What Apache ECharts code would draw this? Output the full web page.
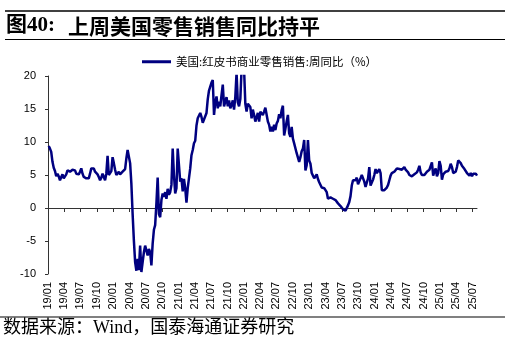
<!DOCTYPE html>
<html><head><meta charset="utf-8">
<script src="https://cdn.jsdelivr.net/npm/echarts@6/dist/echarts.min.js"></script>
<style>html,body{margin:0;padding:0;background:#fff}#c{width:512px;height:343px}</style>
</head><body><div id="c"></div>
<script>
// Weekly observations (week ending Saturday), first week ends 2019-01-05
const firstWeekUTC = [2019, 0, 5];
const y2019 = [9.4,9.0,8.5,7.0,6.1,5.6,4.8,5.2,4.8,4.2,4.7,5.1,4.5,4.8,5.1,5.7,5.8,5.5,5.6,5.8,5.5,5.7,5.2,5.5,5.1,5.5,6.0,5.2,4.7,4.8,4.5,4.7,4.5,5.2,6.0,6.3,6.0,5.5,5.7,5.1,4.7,4.2,4.6,5.2,4.7,4.2,5.2,7.9,5.0,5.0,5.6,7.7];
const y2020 = [6.8,5.8,5.0,5.2,5.5,5.1,4.8,5.5,5.6,5.9,7.5,8.8,8.9,6.8,3.7,-0.9,-4.9,-8.2,-9.5,-7.7,-9.4,-5.7,-9.7,-8.2,-6.7,-5.7,-5.9,-7.2,-6.2,-6.7,-8.7,-5.4,-3.3,-2.6,0.7,4.6,-0.9,-1.4,1.2,2.2,1.7,2.4,1.4,2.9,2.0,2.4,3.5,9.0,5.0,2.2,3.0,9.0];
const y2021 = [6.5,4.0,4.5,2.5,4.4,3.0,0.8,3.0,3.3,6.0,8.0,8.8,9.8,10.2,12.5,13.6,13.8,14.4,13.8,12.9,13.4,13.4,14.4,16.5,17.8,18.4,19.0,19.4,14.1,16.0,16.9,15.1,16.1,15.4,17.1,18.7,15.4,16.1,16.8,15.4,16.3,15.1,15.6,16.3,14.9,16.8,20.5,16.0,15.4,16.5,21.0,20.3];
const y2022 = [21.0,15.8,14.6,15.8,16.0,15.3,13.6,14.9,14.1,13.1,13.4,14.4,13.1,14.6,14.9,14.1,14.6,15.2,15.0,13.1,12.6,11.6,12.3,11.6,12.6,11.8,12.8,13.2,14.2,13.6,14.8,15.5,11.0,12.0,13.1,14.1,11.3,10.8,12.3,10.5,9.8,10.1,8.3,8.6,7.0,7.7,8.6,9.0,10.3,5.7,6.5,10.3,7.2];
const y2023 = [6.7,5.3,4.9,4.5,4.7,5.1,4.4,3.9,3.6,3.1,2.9,3.0,3.3,2.4,1.4,1.7,1.6,1.7,1.4,1.6,1.2,1.0,0.7,0.9,0.3,0.1,-0.2,-0.4,-0.4,-0.1,0.4,0.9,1.8,3.4,4.2,4.5,4.2,4.6,3.6,3.9,4.5,5.0,5.0,4.0,3.2,3.4,4.5,6.2,3.4,3.7,4.3,5.0];
const y2024 = [5.9,5.3,5.5,5.9,5.3,2.7,2.6,2.7,2.9,3.1,3.5,4.2,4.9,5.3,5.4,5.5,5.8,6.0,6.3,5.9,6.0,5.8,6.0,6.2,5.8,6.0,5.4,5.0,4.9,4.8,5.0,5.1,5.1,5.4,5.8,6.4,5.4,5.0,4.8,5.0,5.2,5.5,5.6,5.8,6.1,6.9,4.9,5.5,6.0,4.8,5.3,7.1];
const y2025 = [6.4,4.3,5.1,5.3,5.5,5.7,5.6,6.0,6.7,6.2,5.3,5.1,5.5,6.2,7.2,7.4,6.8,6.4,6.1,5.9,5.6,5.3,5.0,4.9,5.3,4.8,5.2,5.3,5.2,4.9];
const tickLabels = ['19/01','19/04','19/07','19/10','20/01','20/04','20/07','20/10','21/01','21/04','21/07','21/10','22/01','22/04','22/07','22/10','23/01','23/04','23/07','23/10','24/01','24/04','24/07','24/10','25/01','25/04','25/07'];
const yTicks = [-10, -5, 0, 5, 10, 15, 20];
const seriesName = '美国:红皮书商业零售销售:周同比（%）';

const DAY = 86400000;
const values = [].concat(y2019, y2020, y2021, y2022, y2023, y2024, y2025);
const t0 = Date.UTC(firstWeekUTC[0], firstWeekUTC[1], firstWeekUTC[2]);
const data = values.map((v, i) => [t0 + i * 7 * DAY, v]);
const tickValues = tickLabels.map(s => Date.UTC(2000 + Number(s.slice(0, 2)), Number(s.slice(3)) - 1, 1));
const xMin = tickValues[0];
const xMax = data[data.length - 1][0];
const labelFor = v => { const k = tickValues.indexOf(v); return k >= 0 ? tickLabels[k] : ''; };

const chart = echarts.init(document.getElementById('c'), null, {renderer: 'canvas'});
chart.setOption({
  animation: false,
  backgroundColor: '#fff',
  grid: {left: 48, right: 35, top: 76, bottom: 69, containLabel: false, outerBoundsMode: 'none'},
  legend: {
    data: [seriesName], left: 137, top: 51,
    icon: 'rect', itemWidth: 29, itemHeight: 3, itemGap: 4,
    textStyle: {fontSize: 11.5, color: '#000', fontFamily: '"Noto Sans CJK SC", sans-serif'}
  },
  xAxis: [{
    type: 'value', min: xMin, max: xMax, scale: true,
    axisLine: {onZero: true, lineStyle: {color: '#333', width: 1}},
    axisTick: {show: true, customValues: tickValues, length: 4, lineStyle: {color: '#333'}},
    axisLabel: {show: false},
    splitLine: {show: false}
  }, {
    type: 'value', min: xMin, max: xMax, scale: true, position: 'bottom',
    axisLine: {show: false, onZero: false},
    axisTick: {show: false},
    axisLabel: {
      customValues: tickValues, rotate: 90, margin: 8, fontSize: 11, color: '#000',
      fontFamily: '"Liberation Sans", Arial, sans-serif', hideOverlap: false,
      formatter: labelFor
    },
    splitLine: {show: false}
  }],
  yAxis: {
    type: 'value', min: yTicks[0], max: yTicks[yTicks.length - 1], interval: 5,
    axisLine: {show: true, lineStyle: {color: '#333', width: 1}},
    axisTick: {show: true, length: 3, lineStyle: {color: '#333'}},
    axisLabel: {fontSize: 11, color: '#000', margin: 12, fontFamily: '"Liberation Sans", Arial, sans-serif'},
    splitLine: {show: false}
  },
  series: [{
    name: seriesName, type: 'line', data: data, xAxisIndex: 0,
    showSymbol: false, symbol: 'none', clip: true,
    lineStyle: {color: '#000080', width: 2.5}, itemStyle: {color: '#000080'}
  }],
  graphic: [
    {type: 'rect', shape: {x: 5, y: 10, width: 500, height: 2}, style: {fill: '#404040'}},
    {type: 'text', x: 6, y: 26, style: {text: '图40:', fontSize: 21, fontWeight: 'bold', fill: '#000', verticalAlign: 'middle', fontFamily: '"Liberation Serif", "Noto Sans CJK SC", serif'}},
    {type: 'text', x: 68, y: 26, style: {text: '上周美国零售销售同比持平', fontSize: 21, fontWeight: 'bold', fill: '#000', verticalAlign: 'middle', fontFamily: '"Noto Sans CJK SC", sans-serif'}},
    {type: 'rect', shape: {x: 5, y: 39, width: 500, height: 1}, style: {fill: '#000'}},
    {type: 'rect', shape: {x: 0, y: 316, width: 505, height: 2}, style: {fill: '#808080'}},
    {type: 'text', x: 3, y: 328, style: {text: '数据来源：Wind，国泰海通证券研究', fontSize: 18, fill: '#000', verticalAlign: 'middle', fontFamily: '"Liberation Serif", "Noto Sans CJK SC", serif'}}
  ]
});
</script>
</body></html>
